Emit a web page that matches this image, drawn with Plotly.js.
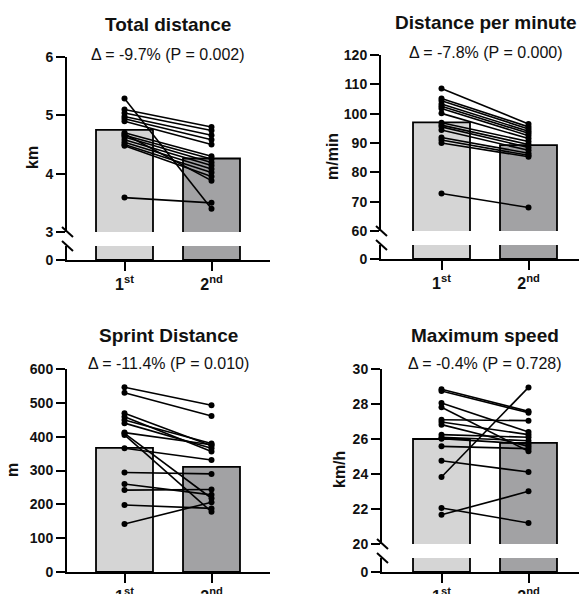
<!DOCTYPE html>
<html>
<head>
<meta charset="utf-8">
<script src="https://cdn.plot.ly/plotly-3.0.1.min.js"></script>
<style>html,body{margin:0;padding:0;background:#fff;}#chart{width:579px;height:594px;}</style>
</head>
<body>
<div id="chart"></div>
<script>
// ---- data ----
const categories = ['1<sup>st</sup>', '2<sup>nd</sup>'];

const totalDistMean = [4.75, 4.26];
const totalDist1 = [5.29, 5.10, 5.04, 4.98, 4.94, 4.90, 4.70, 4.66, 4.63, 4.58, 4.54, 4.50, 4.48, 4.68, 3.59];
const totalDist2 = [3.40, 4.80, 4.74, 4.66, 4.58, 4.50, 4.30, 4.25, 4.19, 4.14, 4.08, 4.02, 3.95, 3.88, 3.50];

const dpmMean = [97.0, 89.3];
const dpm1 = [108.6, 105.2, 104.4, 103.3, 102.5, 101.8, 100.1, 96.9, 96.1, 95.5, 94.4, 91.9, 91.0, 90.0, 72.8];
const dpm2 = [96.5, 95.5, 94.8, 94.0, 93.3, 92.5, 91.5, 90.5, 89.5, 88.5, 87.5, 86.5, 85.8, 85.3, 68.0];

const sprintMean = [367, 311];
const sprint1 = [546, 530, 469, 459, 449, 440, 412, 405, 366, 294, 260, 242, 198, 142, 410];
const sprint2 = [493, 461, 373, 356, 380, 366, 376, 178, 331, 290, 228, 244, 188, 206, 218];

const speedMean = [26.0, 25.78];
const speed1 = [28.84, 28.74, 28.06, 27.81, 27.10, 26.97, 26.82, 26.25, 26.10, 26.02, 25.58, 24.76, 23.83, 22.06, 21.67];
const speed2 = [27.58, 27.50, 26.40, 25.30, 27.05, 26.25, 25.58, 26.10, 25.90, 25.71, 25.45, 24.11, 28.95, 21.20, 23.01];

const titles = ['Total distance', 'Distance per minute', 'Sprint Distance', 'Maximum speed'];
const subtitles = ['Δ = -9.7% (P = 0.002)', 'Δ = -7.8% (P = 0.000)', 'Δ = -11.4% (P = 0.010)', 'Δ = -0.4% (P = 0.728)'];
const yTitles = ['km', 'm/min', 'm', 'km/h'];

// ---- helpers ----
const W = 579, H = 594;
const X = px => px / W;
const Y = py => 1 - py / H;
const FONT = 'Liberation Sans, Arial, Helvetica, sans-serif';
const barColors = ['#d5d5d5', '#a2a2a4'];

function barTrace(means, xa, ya) {
  return {type: 'bar', x: [0, 1], y: means, xaxis: xa, yaxis: ya, width: 0.655,
    marker: {color: barColors, line: {color: '#000', width: 1.8}}, hoverinfo: 'skip'};
}
function pairTrace(a, b, xa, ya) {
  const xs = [], ys = [];
  for (let i = 0; i < a.length; i++) { xs.push(0, 1, null); ys.push(a[i], b[i], null); }
  return {type: 'scatter', mode: 'lines+markers', x: xs, y: ys, xaxis: xa, yaxis: ya,
    line: {color: '#000', width: 1.6}, marker: {color: '#000', size: 6}, cliponaxis: false, hoverinfo: 'skip'};
}

const traces = [
  barTrace(totalDistMean, 'x', 'y'), barTrace(totalDistMean, 'x', 'y2'), pairTrace(totalDist1, totalDist2, 'x', 'y'),
  barTrace(dpmMean, 'x2', 'y3'), barTrace(dpmMean, 'x2', 'y4'), pairTrace(dpm1, dpm2, 'x2', 'y3'),
  barTrace(sprintMean, 'x3', 'y5'), pairTrace(sprint1, sprint2, 'x3', 'y5'),
  barTrace(speedMean, 'x4', 'y6'), barTrace(speedMean, 'x4', 'y7'), pairTrace(speed1, speed2, 'x4', 'y6')
];

const tickFont = {family: FONT, size: 14, color: '#111', weight: 700};
function xAxis(pxL, pxR, center0, anchor) {
  const r0 = -(center0 - pxL) / 87;
  const r1 = r0 + (pxR - pxL) / 87;
  return {domain: [X(pxL), X(pxR)], range: [r0, r1], anchor: anchor, tickvals: [0, 1], ticktext: categories,
    ticks: 'outside', ticklen: 9, tickwidth: 2, tickcolor: '#000', showline: true, linewidth: 2, linecolor: '#000',
    showgrid: false, zeroline: false, fixedrange: true,
    tickfont: {family: FONT, size: 16, color: '#111', weight: 700}};
}
function yAxis(pyBottom, pyTop, range, tickvals, anchor) {
  return {domain: [Y(pyBottom), Y(pyTop)], range: range, anchor: anchor, tickvals: tickvals,
    ticks: 'outside', ticklen: 9, tickwidth: 2, tickcolor: '#000', showline: true, linewidth: 2, linecolor: '#000',
    showgrid: false, zeroline: false, fixedrange: true, tickfont: tickFont};
}
function range(a, b, s) { const r = []; for (let v = a; v <= b + 1e-9; v += s) r.push(+v.toFixed(6)); return r; }

const layout = {
  width: W, height: H, margin: {l: 0, r: 0, t: 0, b: 0}, paper_bgcolor: '#fff', plot_bgcolor: 'rgba(0,0,0,0)',
  showlegend: false, bargap: 0,
  xaxis: xAxis(67, 270, 124.5, 'y2'),
  yaxis: yAxis(232, 57, [3, 6], range(3, 6, 1), 'x'),
  yaxis2: yAxis(260, 246, [0, 0.5], [0], 'x'),
  xaxis2: xAxis(381, 579, 441.5, 'y4'),
  yaxis3: yAxis(231, 55, [60, 120], range(60, 120, 10), 'x2'),
  yaxis4: yAxis(259, 245, [0, 5], [0], 'x2'),
  xaxis3: xAxis(67, 270, 124.5, 'y5'),
  yaxis5: yAxis(572, 369, [0, 600], range(0, 600, 100), 'x3'),
  xaxis4: xAxis(382, 579, 441.5, 'y7'),
  yaxis6: yAxis(544, 369, [20, 30], range(20, 30, 2), 'x4'),
  yaxis7: yAxis(572, 558, [0, 2], [0], 'x4'),
  annotations: [],
  shapes: []
};

// titles, subtitles, y titles
const titlePos = [[168, 24, 55], [486, 23, 53], [168, 335, 363], [485, 335, 363]];
const yTitlePos = [[32, 158], [333, 157], [13, 470], [340, 470]];
for (let i = 0; i < 4; i++) {
  layout.annotations.push({xref: 'paper', yref: 'paper', x: X(titlePos[i][0]), y: Y(titlePos[i][1]),
    xanchor: 'center', yanchor: 'middle', showarrow: false, text: titles[i],
    font: {family: FONT, size: 19, color: '#111', weight: 700}});
  layout.annotations.push({xref: 'paper', yref: 'paper', x: X(titlePos[i][0]), y: Y(titlePos[i][2]),
    xanchor: 'center', yanchor: 'middle', showarrow: false, text: subtitles[i],
    font: {family: FONT, size: 16, color: '#111'}});
  layout.annotations.push({xref: 'paper', yref: 'paper', x: X(yTitlePos[i][0]), y: Y(yTitlePos[i][1]),
    xanchor: 'center', yanchor: 'middle', showarrow: false, text: yTitles[i], textangle: -90,
    font: {family: FONT, size: 16, color: '#111', weight: 700}});
}

// axis break marks
const breaks = [[67, 232, 246], [381, 231, 245], [382, 544, 558]];
breaks.forEach(([ax, upB, loT]) => {
  [upB, loT].forEach(py => {
    layout.shapes.push({type: 'line', xref: 'paper', yref: 'paper',
      x0: X(ax - 5), y0: Y(py - 5), x1: X(ax + 6), y1: Y(py + 5),
      line: {color: '#000', width: 2}});
  });
});

Plotly.newPlot('chart', traces, layout, {displayModeBar: false, staticPlot: true});
</script>
</body>
</html>
